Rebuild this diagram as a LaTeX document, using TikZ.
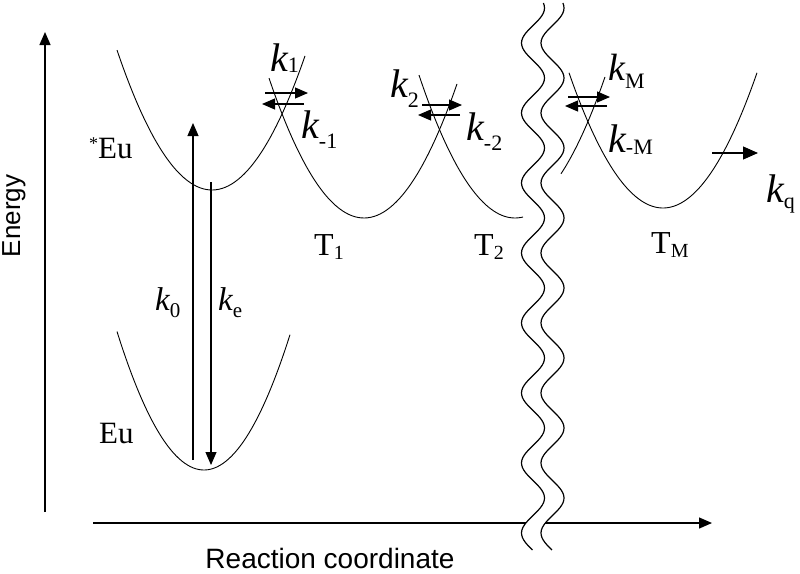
\documentclass[tikz,border=0pt]{standalone}
\usepackage{fontspec}
\setmainfont{Liberation Serif}
\newfontfamily\sansf{Liberation Sans}
\usetikzlibrary{arrows.meta}
\newcommand\klab[4]{{\fontsize{#1}{#1}\selectfont\itshape k}{\fontsize{#2}{#2}\selectfont\raisebox{-#4pt}{#3}}}
\newcommand\tlab[2]{{\fontsize{32}{32}\selectfont T}{\fontsize{20}{20}\selectfont\raisebox{-#2pt}{#1}}}
\begin{document}
\begin{tikzpicture}[x=1pt,y=-1pt,
  curve/.style={line width=0.9pt},
  wave/.style={line width=1.2pt},
  axis/.style={line width=1.3pt,-{Triangle[length=13pt,width=11pt]}},
  rate/.style={line width=1.1pt,-{Triangle[length=13pt,width=11pt]}},
  lab/.style={inner sep=0pt,anchor=base west}]
\useasboundingbox (0,0) rectangle (800,573);
% axes
\coordinate (eb) at (45,512);
\coordinate (et) at (45,32);
\draw[axis] (eb) -- (et);
\coordinate (rl) at (93,523);
\coordinate (rw1) at ({533-11.5*cos(5.142857*(523-323))},523);
\coordinate (rw2) at ({552.5-11.5*cos(5.142857*(523-323))},523);
\coordinate (rr) at (712,523);
\draw[line width=1.3pt] (rl) -- (rw1);
\draw[axis] (rw2) -- (rr);
\node[font=\sansf\fontsize{26}{26}\selectfont, rotate=90, anchor=base, inner sep=0pt] (energy) at (20,216) {Energy};
\node[font=\sansf\fontsize{28}{28}\selectfont, anchor=base, inner sep=0pt] (rc) at (330,568) {Reaction coordinate};
% wavy break lines
\draw[wave] plot[domain=3:550, samples=220, smooth] ({533-11.5*cos(5.142857*(\x-323))}, \x);
\draw[wave] plot[domain=3:550, samples=220, smooth] ({552.5-11.5*cos(5.142857*(\x-323))}, \x);
% potential curves
\draw[curve] plot[domain=117:305, samples=60, smooth] (\x, {190-0.0155*(\x-212)^2});
\draw[curve] plot[domain=269:457, samples=60, smooth] (\x, {218-0.0155*(\x-364)^2});
\draw[curve] plot[domain=419:523, samples=40, smooth] (\x, {218-0.0155*(\x-515)^2});
\draw[curve] plot[domain=561:605, samples=20, smooth] (\x, {211-0.0155*(\x-512)^2});
\draw[curve] plot[domain=569:757, samples=60, smooth] (\x, {208-0.0153*(\x-663)^2});
\draw[curve] plot[domain=117:290, samples=60, smooth] (\x, {470-0.0183*(\x-204)^2});
% excitation / emission
\coordinate (k0a) at (193,460); \coordinate (k0b) at (193,123);
\coordinate (kea) at (211,182); \coordinate (keb) at (211,465);
\draw[rate] (k0a) -- (k0b);
\draw[rate] (kea) -- (keb);
% rate arrows
\coordinate (a1) at (265,93);  \coordinate (b1) at (308,93);
\coordinate (c1) at (304,104); \coordinate (d1) at (262,104);
\draw[rate] (a1) -- (b1); \draw[rate] (c1) -- (d1);
\coordinate (a2) at (422,105); \coordinate (b2) at (462,105);
\coordinate (c2) at (460,115); \coordinate (d2) at (418,115);
\draw[rate] (a2) -- (b2); \draw[rate] (c2) -- (d2);
\coordinate (aM) at (568,97);  \coordinate (bM) at (610,97);
\coordinate (cM) at (607,106); \coordinate (dM) at (565,106);
\draw[rate] (aM) -- (bM); \draw[rate] (cM) -- (dM);
\coordinate (aq) at (712,153); \coordinate (bq) at (758,153);
\draw[line width=1.1pt,-{Triangle[length=15pt,width=13pt]}] (aq) -- (bq);
% labels
\node[lab] (lk1) at (270,71) {\klab{40}{22}{1}{1}};
\node[lab] (lkm1) at (301,138) {\klab{40}{22}{-1}{10}};
\node[lab] (lk2) at (390,97) {\klab{40}{22}{2}{10}};
\node[lab] (lkm2) at (466,140) {\klab{40}{22}{-2}{10}};
\node[lab] (lkM) at (608,80) {\klab{38}{22}{M}{8}};
\node[lab] (lkmM) at (608,152) {\klab{40}{22}{-M}{2}};
\node[lab] (lkq) at (766,202) {\klab{40}{22}{q}{6}};
\node[lab] (lk0) at (155,310) {\klab{33}{21}{0}{7}};
\node[lab] (lke) at (218,310) {\klab{33}{21}{e}{7}};
\node[lab] (seu) at (89,158) {{\fontsize{18}{18}\selectfont\raisebox{9pt}{*}}{\fontsize{31}{31}\selectfont Eu}};
\node[lab] (eu) at (99,443) {\fontsize{31}{31}\selectfont Eu};
\node[lab] (t1) at (314,255) {\tlab{1}{4}};
\node[lab] (t2) at (474,255) {\tlab{2}{4}};
\node[lab] (tM) at (651,253) {\tlab{M}{4}};
\end{tikzpicture}
\end{document}
